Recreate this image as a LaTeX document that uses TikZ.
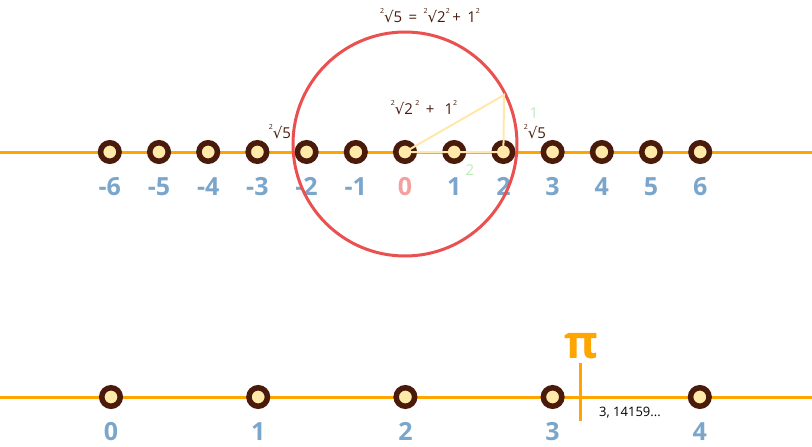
\documentclass[tikz,border=0pt]{standalone}
\usepackage{fontspec}
\setmainfont{Open Sans}
\newfontfamily\rootfont{DejaVu Sans}
\usetikzlibrary{positioning}
\definecolor{axisorange}{RGB}{255,165,0}
\definecolor{dotbrown}{RGB}{74,26,10}
\definecolor{dotcream}{RGB}{255,234,170}
\definecolor{numblue}{RGB}{122,166,204}
\definecolor{zeropink}{RGB}{245,160,160}
\definecolor{ringred}{RGB}{235,80,80}
\definecolor{legpale}{RGB}{255,232,170}
\definecolor{leggreen}{RGB}{190,235,190}
\newcommand{\sqidx}{\raisebox{0.6em}{\fontsize{7}{7}\selectfont 2}}
\newcommand{\rootof}{\sqidx{\rootfont √}}

\begin{document}
\begin{tikzpicture}[x=1pt, y=-1pt,
  axis/.style={draw=axisorange, line width=3pt},
  dot/.style={circle, draw=dotbrown, fill=dotcream, line width=5.5pt, minimum size=18.5pt, inner sep=0pt},
  numlbl/.style={font=\bfseries\fontsize{25}{25}\selectfont, text=numblue, inner sep=0pt},
  formula/.style={font=\fontsize{15}{15}\selectfont, text=dotbrown, inner sep=0pt},
  leg/.style={draw=legpale, line width=2pt},
  legnum/.style={font=\fontsize{15}{15}\selectfont, text=leggreen, inner sep=0pt}]
  \useasboundingbox (0,0) rectangle (812,447);

  % upper number line
  \coordinate (ua) at (0,152);
  \coordinate (ub) at (812,152);
  \draw[axis] (ua) -- (ub);
  \foreach \n in {-6,...,6}
    \node[dot] (t\n) at ({405+49.2*\n},152) {};
  \foreach \n in {-6,...,-1,1,2,...,6}
    \node[numlbl, below=13pt of t\n] (l\n) {\n};
  \node[numlbl, text=zeropink, below=13pt of t0] (l0) {0};

  % circle of radius sqrt 5
  \node[circle, draw=ringred, line width=3pt, minimum size=224pt, inner sep=0pt] (ring) at (405,144) {};
  \coordinate (apex) at (504,95);
  \draw[leg] (t0.center) -- (t2.center) -- (apex) -- cycle;

  \node[formula] (top) at (430,16) {\rootof5 \,=\, \rootof2\sqidx\,+ \,1\sqidx};
  \node[formula] (hyp) at (424,108) {\rootof2\,\sqidx\, + \ \,1\sqidx};
  \node[formula] (rl) at (280,132) {\rootof5};
  \node[formula] (rr) at (535,132) {\rootof5};
  \node[legnum] (one) at (534,113) {1};
  \node[legnum] (two) at (470,170) {2};

  % lower number line
  \coordinate (la) at (0,397);
  \coordinate (lb) at (812,397);
  \draw[axis] (la) -- (lb);
  \foreach \n in {0,...,4} {
    \node[dot] (b\n) at ({111+147.2*\n},397) {};
    \node[numlbl, below=13pt of b\n] (m\n) {\n};
  }
  \node[font=\bfseries\fontsize{46}{46}\selectfont, text=axisorange, inner sep=0pt] (pi) at (581,346) {π};
  \coordinate (ptop) at (580,363);
  \coordinate (pbot) at (580,421);
  \draw[axis] (ptop) -- (pbot);
  \node[font=\fontsize{13}{13}\selectfont, inner sep=0pt] (val) at (630,413) {3, 14159...};
\end{tikzpicture}
\end{document}
